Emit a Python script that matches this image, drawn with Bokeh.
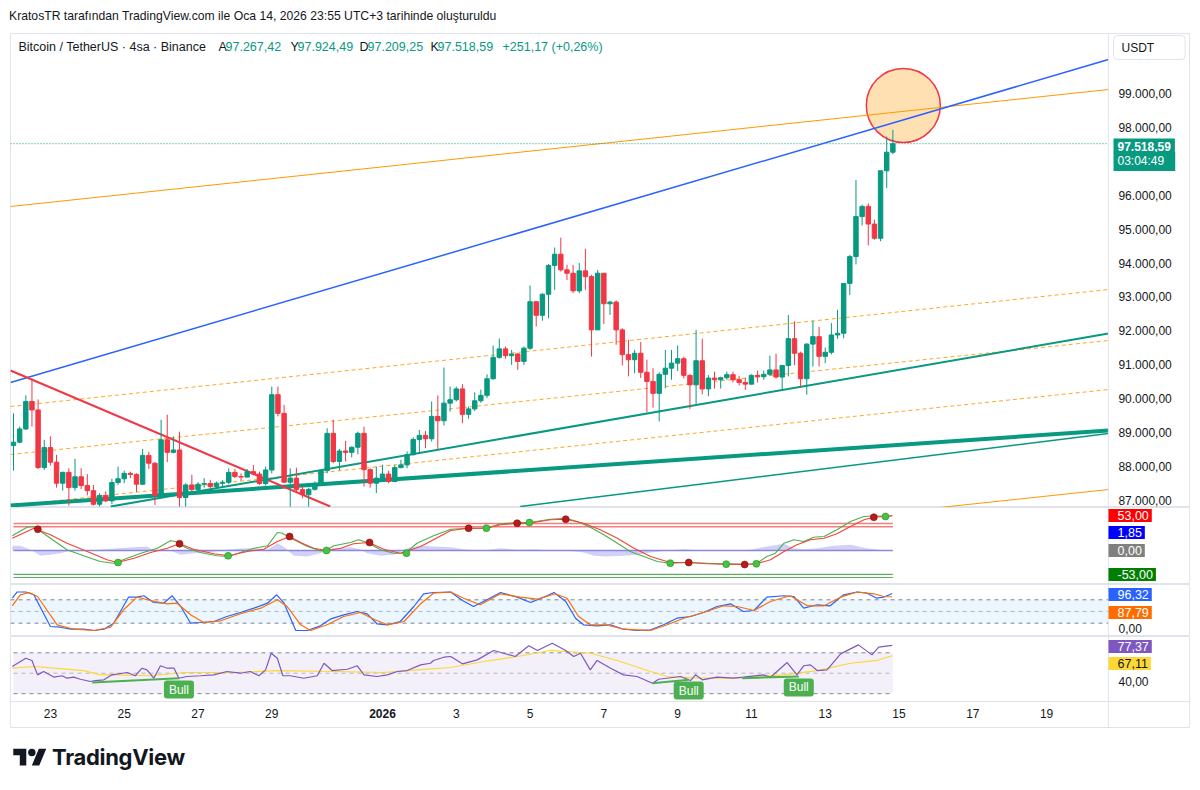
from bokeh.plotting import figure
from bokeh.models import Range1d, Label, Div, ColumnDataSource, Span
from bokeh.layouts import column
from bokeh.embed import file_html
from bokeh.resources import INLINE

# ------------------------------------------------------------------ data
# 4h candles BTC/USDT (bar index 0..143, bar 60 = 1 Jan 2026 00:00)
opens = [88620, 88720, 89110, 89920, 89670, 87970, 88560, 88130, 87510, 87830,
         87380, 87700, 87440, 87290, 86890, 87150, 86990, 87530, 87640, 87800,
         87770, 87480, 88330, 88100, 87150, 88790, 88420, 88490, 87090, 87460,
         87320, 87480, 87500, 87410, 87510, 87540, 87830, 87710, 87690, 87850,
         87780, 87500, 87900, 90120, 89570, 87540, 87660, 87320, 87170, 87330,
         87460, 87880, 88980, 88150, 88460, 88420, 88570, 88980, 87910, 87510,
         87660, 87780, 87560, 87970, 88050, 88350, 88800, 88920, 88820, 89480,
         89350, 89870, 89970, 90290, 89540, 89700, 89940, 90100, 90590, 91220,
         91470, 91270, 91320, 91100, 91490, 92860, 92460, 93080, 93930, 94260,
         93800, 93700, 93180, 93770, 93600, 92030, 93700, 92800, 92850, 92030,
         91300, 91150, 91340, 90780, 90510, 90160, 90720, 90900, 91050, 91180,
         90690, 90410, 91120, 90290, 90610, 90560, 90620, 90710, 90560, 90480,
         90430, 90690, 90650, 90720, 90850, 90640, 90980, 91770, 91340, 90590,
         91610, 91830, 91250, 91370, 91880, 91930, 93400, 94190, 95370, 95670,
         95150, 94730, 96720, 97267.42]
highs = [89570, 89180, 90100, 90590, 89980, 88790, 88890, 88350, 87850, 87950,
         88230, 87950, 87780, 87460, 87220, 87270, 87640, 88000, 87880, 87850,
         87800, 88520, 88440, 88130, 89380, 89530, 88890, 89030, 87510, 87760,
         87540, 87660, 87610, 87560, 87600, 87950, 87930, 87800, 87930, 88050,
         87850, 88000, 90360, 90360, 89820, 87950, 87970, 87410, 87380, 87560,
         87900, 89130, 89380, 88520, 88760, 88590, 89030, 89180, 87950, 88000,
         88050, 87880, 88050, 88200, 88450, 88860, 89080, 89050, 89920, 90100,
         90920, 90360, 90360, 90430, 89770, 90190, 90270, 90720, 91570, 91780,
         91540, 91440, 91350, 91540, 93340, 92870, 93110, 93970, 94460, 94750,
         93950, 93950, 94000, 94420, 93650, 93800, 93700, 92890, 92900, 92080,
         91740, 91440, 91670, 91150, 90900, 90780, 91440, 91440, 91570, 91240,
         90720, 92030, 91770, 90700, 90800, 90650, 90800, 90800, 90680, 90620,
         90720, 90830, 90830, 91270, 91330, 91000, 92470, 92280, 91390, 91640,
         92300, 92120, 91510, 92230, 92620, 93400, 94240, 96450, 95720, 95760,
         95280, 96720, 97730, 97924.49]
lows = [87880, 88690, 89080, 89180, 87930, 87900, 88030, 87380, 87290, 86850,
        87290, 87340, 87150, 86850, 86820, 86950, 86890, 87460, 87510, 87660,
        87250, 87460, 87930, 86870, 87070, 88130, 88390, 86820, 86820, 87270,
        87270, 87380, 87360, 87360, 87380, 87480, 87660, 87580, 87680, 87740,
        87460, 87440, 87800, 89480, 87510, 86820, 87250, 87070, 86820, 87290,
        87440, 87800, 88100, 87880, 88150, 88270, 88360, 87410, 87380, 87220,
        87580, 87510, 87540, 87950, 87950, 88330, 88390, 88540, 88740, 88500,
        89210, 89620, 89920, 89280, 89410, 89640, 89880, 90020, 90560, 91180,
        91180, 91000, 90850, 91000, 91440, 92130, 92300, 92370, 93210, 93750,
        93500, 93110, 93110, 93210, 91240, 92030, 92200, 92470, 91590, 90980,
        90660, 90750, 90610, 89600, 89740, 89330, 90310, 90560, 90820, 90600,
        89700, 89840, 90130, 90070, 90300, 90300, 90560, 90480, 90390, 90260,
        90420, 90480, 90560, 90680, 90600, 90230, 90660, 90990, 90330, 90120,
        90950, 90950, 91050, 91310, 91770, 91780, 93060, 93960, 95110, 94520,
        94690, 94640, 96210, 97209.25]
closes = [88720, 89110, 89920, 89670, 87970, 88560, 88130, 87510, 87830, 87380,
          87700, 87440, 87290, 86890, 87150, 86990, 87530, 87640, 87800, 87770,
          87480, 88330, 88100, 87150, 88790, 88420, 88490, 87090, 87460, 87320,
          87480, 87500, 87410, 87510, 87540, 87830, 87710, 87690, 87850, 87780,
          87500, 87900, 90120, 89570, 87540, 87660, 87320, 87170, 87330, 87460,
          87880, 88980, 88150, 88460, 88420, 88570, 88980, 87910, 87510, 87660,
          87780, 87560, 87970, 88050, 88350, 88800, 88920, 88820, 89480, 89350,
          89870, 89970, 90290, 89540, 89700, 89940, 90100, 90590, 91220, 91470,
          91270, 91320, 91100, 91490, 92860, 92460, 93080, 93930, 94260, 93800,
          93700, 93180, 93770, 93600, 92030, 93700, 92800, 92850, 92030, 91300,
          91150, 91340, 90780, 90510, 90160, 90720, 90900, 91050, 91180, 90690,
          90410, 91120, 90290, 90610, 90560, 90620, 90710, 90560, 90480, 90430,
          90690, 90650, 90720, 90850, 90640, 90980, 91770, 91340, 90590, 91610,
          91830, 91250, 91370, 91880, 91930, 93400, 94190, 95370, 95670, 95150,
          94730, 96720, 97267.42, 97518.59]

last_price = 97518.59
legend_ohlc = [("A", 97267.42), ("Y", 97924.49), ("D", 97209.25), ("K", 97518.59)]
change_abs = 251.17
change_pct = 0.26
countdown = "03:04:49"

# drawings (bar, price)
blue_channel = [(-0.49, 90480.0), (178.05, 100000.0)]
orange_upper = [(-0.49, 95667.0), (178.05, 99116.0)]
orange_lower = [(-0.49, 83875.0), (178.05, 87324.0)]
red_downtrend = [(-0.49, 90832.0), (51.5, 86823.0)]
green_thick = [(-0.49, 86853.0), (178.05, 89064.0)]
green_upper = [(15.8, 86823.0), (178.05, 91923.0)]
green_lower = [(82.4, 86823.0), (178.05, 88975.0)]
orange_dashed = [
    [(-0.49, 89771.0), (178.05, 93220.0)],
    [(-0.49, 88356.0), (178.05, 91717.0)],
    [(-0.49, 86853.0), (178.05, 90272.0)],
]
target_circle = (144.7, 98645.0)

# price axis ticks
price_ticks = [87000, 88000, 89000, 90000, 91000, 92000, 93000, 94000, 95000, 96000, 98000, 99000]

# date ticks (days from 1 Jan 2026) and labels
date_days = [-9, -7, -5, -3, 0, 2, 4, 6, 8, 10, 12, 14, 16, 18]
date_labels = ["23", "25", "27", "29", "2026", "3", "5", "7", "9", "11", "13", "15", "17", "19"]
JAN1_BAR = 60
BARS_PER_DAY = 6

# WaveTrend oscillator (bar, value)
wt1_pts = [(-0.2, 32.7), (2.2, 51.8), (3.3, 53.3), (6.0, 27.3), (8.7, 1.6), (11.4, -11.8), (14.1, -24.4),
           (16.3, -28.2), (18.5, -17.1), (20.7, -6.0), (23.4, 5.1), (25.5, 21.6), (26.3, 20.0), (28.2, 5.1),
           (30.4, -4.4), (33.1, -11.8), (35.0, -13.3), (36.9, -4.4), (39.1, 5.1), (41.3, 10.4), (42.9, 40.0),
           (43.7, 38.4), (45.6, 23.8), (47.8, 8.9), (49.9, -0.7), (50.7, -0.7), (52.1, 10.4), (54.8, 17.8),
           (56.1, 23.8), (57.5, 17.8), (59.7, 1.6), (61.8, -6.0), (63.7, -6.0), (65.6, 16.2), (68.3, 32.7),
           (71.1, 47.3), (74.0, 49.6), (76.9, 49.6), (79.2, 59.3), (81.9, 62.2), (83.9, 62.2), (87.3, 69.6),
           (89.8, 71.8), (91.7, 64.4), (93.8, 51.8), (96.0, 34.9), (98.2, 16.2), (100.3, -2.2), (102.5, -13.3),
           (104.7, -24.4), (106.8, -28.2), (109.8, -26.7), (112.8, -28.2), (115.9, -30.4), (118.9, -30.4),
           (120.8, -29.6), (122.5, -13.3), (123.9, -6.0), (125.3, 16.2), (126.9, 23.8), (128.5, 20.0),
           (130.1, 29.6), (131.8, 31.1), (133.9, 46.0), (136.1, 64.4), (138.3, 75.6), (139.9, 77.1),
           (141.8, 75.6), (142.9, 77.1)]
wt2_pts = [(-0.2, 27.3), (3.3, 49.6), (6.0, 34.9), (8.7, 16.2), (12.0, -2.2), (15.2, -20.7), (16.9, -26.7),
           (19.6, -17.1), (22.3, -4.4), (25.0, 5.1), (27.0, 14.9), (29.3, 2.9), (32.6, -7.3), (35.0, -11.8),
           (38.0, -2.2), (40.7, 2.9), (42.9, 20.0), (44.9, 31.1), (46.7, 17.8), (48.8, 5.1), (50.9, 0.0),
           (53.2, 5.1), (55.3, 14.9), (57.8, 17.8), (60.2, 2.9), (62.9, -6.0), (66.2, 8.9), (68.3, 23.8),
           (71.1, 44.4), (74.0, 49.6), (76.9, 49.6), (79.2, 57.1), (81.9, 60.7), (83.9, 60.7), (87.3, 68.2),
           (89.8, 69.6), (92.7, 60.7), (95.4, 46.0), (98.2, 27.3), (100.9, 5.1), (103.6, -13.3), (106.8, -26.7),
           (109.8, -26.7), (112.8, -29.6), (115.9, -30.4), (118.9, -31.1), (120.8, -29.6), (123.1, -20.7),
           (125.3, -2.2), (127.4, 12.7), (129.6, 23.8), (131.8, 27.3), (133.9, 37.1), (136.1, 53.3),
           (138.3, 68.2), (139.9, 74.0), (141.8, 75.6), (142.9, 77.1)]
wt_hist_pts = [(-0.2, 10.4), (1.1, 10.4), (2.2, 5.2), (3.3, -2.2), (4.4, -11.9), (6.0, -9.6), (7.6, -5.9),
               (8.7, -2.2), (11.4, 0.0), (14.1, 1.5), (16.9, 5.2), (19.6, 7.4), (21.7, 8.9), (22.8, 0.0),
               (25.0, 3.0), (27.2, -9.6), (29.3, -5.9), (31.5, -4.4), (34.7, 1.5), (36.9, 4.4), (39.1, 5.2),
               (41.3, 1.5), (42.9, 16.3), (43.9, 8.9), (45.6, -11.9), (47.8, -13.3), (49.9, -5.9), (52.1, 5.2),
               (54.8, 7.4), (56.4, 3.0), (57.5, -5.9), (59.7, -11.9), (61.8, -9.6), (64.0, 5.2), (66.2, 10.4),
               (68.3, 8.9), (71.1, 7.4), (73.8, 1.5), (76.5, 0.0), (79.2, 5.2), (81.9, 1.5), (84.6, 3.0),
               (87.3, 0.0), (90.0, 0.0), (92.7, -4.4), (94.4, -11.9), (96.5, -13.3), (99.2, -11.9),
               (101.4, -9.6), (103.6, -4.4), (106.3, 0.0), (109.0, 3.0), (111.7, 0.0), (117.1, 0.0),
               (119.8, 1.5), (122.5, 8.9), (125.3, 14.8), (126.9, 5.2), (128.5, 3.0), (130.7, 5.2),
               (133.4, 10.4), (136.1, 12.6), (138.8, 5.2), (141.5, 0.0), (142.9, 0.0)]
wt_cross_down = [(3.95, 47.3), (27.0, 14.9), (44.9, 31.1), (57.9, 17.8), (74.0, 49.6), (81.9, 60.7),
                 (89.8, 69.6), (109.8, -26.7), (118.9, -31.1), (139.9, 74.0)]
wt_cross_up = [(17.0, -26.7), (34.9, -11.8), (50.9, 0.0), (63.9, -6.0), (76.9, 49.6), (83.9, 62.2),
               (106.8, -28.2), (115.9, -30.4), (120.8, -29.6), (141.8, 75.6)]
wt_levels_ob = [60, 53]
wt_levels_os = [-53, -60]
wt_tags = [("53,00", "#ff0000"), ("1,85", "#0000ff"), ("0,00", "#808080"), ("-53,00", "#008000")]

# Stochastic RSI (bar, value)
stoch_k = [(-0.2, 84.1), (0.6, 100), (2.0, 100), (3.3, 92.8), (6.0, 11.5), (7.6, 9.7), (9.3, 4.6), (11.4, 4.6),
           (13.1, 1.3), (14.7, 4.6), (16.3, 20.0), (18.7, 86.7), (20.1, 86.7), (21.2, 90.3), (22.8, 73.1),
           (24.4, 71.3), (25.8, 90.3), (27.2, 62.8), (28.8, 20.0), (30.4, 21.8), (32.6, 24.4), (34.7, 37.2),
           (36.9, 47.4), (39.1, 58.5), (41.3, 71.3), (42.8, 92.8), (44.0, 71.3), (45.9, 1.3), (47.8, 1.3),
           (49.9, 13.3), (51.5, 30.3), (53.7, 41.5), (55.9, 50.0), (57.5, 44.1), (59.1, 18.5), (60.8, 15.9),
           (62.9, 24.4), (65.1, 62.8), (66.7, 95.4), (68.3, 98.7), (71.1, 100), (73.0, 78.2), (74.8, 62.8),
           (77.0, 80.0), (79.2, 98.7), (81.9, 86.7), (84.1, 73.1), (86.2, 86.7), (87.9, 98.7), (89.8, 75.6),
           (91.4, 32.8), (92.7, 15.9), (94.9, 13.3), (97.1, 15.9), (99.2, 4.6), (101.4, 1.3), (103.6, 3.1),
           (105.7, 15.9), (107.9, 32.8), (110.1, 37.2), (112.2, 47.4), (114.4, 62.8), (116.6, 69.7),
           (118.7, 50.0), (120.4, 52.6), (122.5, 86.7), (125.3, 90.3), (126.9, 88.5), (128.5, 58.5),
           (130.7, 67.2), (132.8, 64.6), (135.0, 92.8), (137.2, 100), (138.8, 96.9), (140.4, 84.1),
           (141.5, 86.7), (142.9, 96.32)]
stoch_d = [(-0.2, 64.6), (1.1, 92.8), (2.5, 98.7), (3.9, 88.5), (7.1, 15.9), (9.8, 4.6), (13.1, 1.3), (15.8, 9.7),
           (17.9, 54.4), (20.1, 86.7), (22.3, 78.2), (25.0, 69.7), (26.6, 71.3), (28.8, 41.5), (30.9, 21.8),
           (33.7, 26.2), (36.9, 44.1), (40.2, 58.5), (42.9, 80.0), (44.5, 62.8), (46.7, 15.9), (48.3, 1.3),
           (51.0, 15.9), (53.7, 37.2), (56.4, 47.4), (58.6, 30.3), (60.8, 15.9), (63.5, 24.4), (66.2, 69.7),
           (68.3, 96.9), (71.1, 100), (73.2, 84.1), (75.9, 67.2), (79.2, 95.4), (82.4, 86.7), (85.2, 81.5),
           (88.1, 95.4), (90.0, 84.1), (91.9, 37.2), (93.8, 15.9), (96.5, 15.9), (99.2, 4.6), (103.6, 1.3),
           (106.3, 15.9), (109.0, 32.8), (112.2, 47.4), (115.5, 64.6), (117.7, 62.8), (120.4, 52.6),
           (123.1, 75.6), (126.3, 90.3), (129.1, 64.6), (131.8, 64.6), (134.5, 86.7), (137.2, 100),
           (139.9, 95.4), (141.5, 88.5), (142.9, 87.79)]
stoch_band = (20, 80)
stoch_mid = 50
stoch_axis_tick = 0

# RSI (bar, value)
rsi_pts = [(-0.2, 56.6), (2.0, 64.7), (3.0, 62.5), (3.9, 48.4), (4.9, 51.7), (6.6, 46.1), (7.9, 47.5), (8.7, 45.1),
           (9.8, 46.1), (10.9, 44.1), (12.5, 41.9), (13.3, 42.8), (14.7, 43.5), (16.0, 48.4), (18.5, 50.7),
           (19.8, 47.5), (20.9, 54.9), (21.7, 53.3), (22.8, 45.1), (23.9, 57.3), (25.0, 54.9), (26.1, 54.9),
           (26.9, 45.1), (28.2, 46.8), (30.4, 47.5), (32.6, 48.4), (34.7, 51.7), (36.9, 50.0), (38.5, 51.7),
           (39.9, 47.5), (41.0, 53.3), (41.9, 69.6), (42.9, 64.7), (43.8, 47.5), (45.0, 47.5), (47.2, 45.1),
           (49.4, 47.5), (50.5, 59.8), (51.8, 52.6), (54.3, 53.9), (55.9, 57.3), (57.0, 48.4), (59.1, 46.8),
           (60.8, 48.4), (62.4, 51.7), (64.0, 52.6), (66.2, 58.2), (67.8, 59.8), (68.3, 62.5), (70.0, 65.7),
           (71.1, 66.4), (73.0, 59.2), (75.4, 63.1), (78.1, 72.3), (79.7, 69.6), (81.6, 66.4), (83.8, 76.9),
           (85.2, 72.3), (87.6, 79.4), (89.8, 72.3), (91.1, 66.4), (92.2, 69.6), (93.8, 53.3), (94.9, 62.5),
           (97.1, 54.9), (99.2, 48.4), (101.4, 46.8), (103.9, 40.2), (104.9, 44.1), (108.5, 46.8),
           (110.1, 42.8), (110.9, 48.4), (112.0, 43.5), (114.4, 46.1), (117.1, 45.1), (118.7, 46.1),
           (122.0, 48.4), (123.1, 46.1), (125.8, 60.5), (127.4, 48.4), (128.5, 57.3), (129.6, 58.2),
           (130.7, 52.6), (132.3, 53.3), (134.5, 69.0), (137.4, 77.8), (139.6, 68.0), (140.7, 75.5),
           (142.9, 77.37)]
rsi_ma_pts = [(-0.2, 54.9), (3.3, 56.6), (6.6, 54.9), (11.4, 52.6), (14.1, 48.4), (16.9, 48.4), (22.3, 47.5),
              (27.7, 50.7), (35.8, 50.7), (42.9, 52.6), (52.1, 51.7), (60.2, 50.7), (65.6, 53.3), (71.1, 55.6),
              (76.5, 61.5), (81.9, 66.4), (87.3, 72.3), (93.8, 69.6), (98.2, 62.5), (103.6, 51.7),
              (106.3, 46.8), (111.7, 45.1), (117.1, 45.1), (125.3, 48.4), (130.7, 52.6), (136.1, 59.8),
              (140.4, 62.5), (142.9, 67.11)]
rsi_band = (30, 70)
rsi_mid = 50
rsi_axis_tick = 40
bull_divergences = [((12.8, 40.9), (26.9, 45.1)), ((103.9, 40.2), (109.8, 43.5)), ((118.5, 45.1), (127.7, 46.8))]
bull_label_y = [34.0, 33.0, 36.0]

# ------------------------------------------------------------------ style
FONT = "Liberation Sans"
TEXT = "#131722"
UP = "#089981"
DOWN = "#f23645"
GRIDLINE = "#e0e3eb"
FW = 1180            # frame width (px) incl. price-scale column
LEFT = 10            # page x of frame left
SEP_BAR = 178.05     # bar position of the price-scale separator

xr = Range1d(-0.49, 191.4)


def tr(v, dec=2):
    s = f"{v:,.{dec}f}"
    return s.replace(",", "#").replace(".", ",").replace("#", ".")


def pane(fh, y0, y1):
    p = figure(frame_width=FW, frame_height=fh, x_range=xr, y_range=Range1d(y0, y1),
               x_axis_location=None, y_axis_location=None,
               toolbar_location=None, output_backend="svg",
               min_border_left=LEFT, min_border_right=0, min_border_top=0, min_border_bottom=0,
               background_fill_color="white", border_fill_color="white")
    p.xgrid.visible = False
    p.ygrid.visible = False
    p.outline_line_color = GRIDLINE
    p.add_layout(Span(location=SEP_BAR, dimension="height", line_color=GRIDLINE, line_width=1))
    return p


def tag(p, fb, px, py, text, color=TEXT, bg=None, size="12px", pad=None, bold=False,
        border=None, radius=0, align="left"):
    lab = Label(x=px - LEFT, y=fb - py, x_units="screen", y_units="screen", text=text,
                text_color=color, text_font=FONT, text_font_size=size,
                text_baseline="middle", text_align=align,
                text_font_style=("bold" if bold else "normal"),
                background_fill_color=bg, border_line_color=border, border_radius=radius,
                padding=(pad if pad is not None else 0))
    p.add_layout(lab)


def ytick(p, v, text):
    p.add_layout(Label(x=SEP_BAR, y=v, x_offset=10, text=text, text_color=TEXT, text_font=FONT,
                       text_font_size="12px", text_baseline="middle", text_align="left"))


def seg_line(p, pts, **kw):
    p.line([a for a, _ in pts], [b for _, b in pts], **kw)


BOX_PAD = dict(left=9, right=3, top=2, bottom=2)
BOX_FS = "12.5px"

# ------------------------------------------------------------------ main pane
MAIN_FB = 506
main = pane(474, 86794, 100767)
for t in price_ticks:
    ytick(main, t, tr(t))

main.scatter([target_circle[0]], [target_circle[1]], size=74, marker="circle",
             fill_color="#ff9800", fill_alpha=0.3, line_color="#f23645", line_width=1.5)

for pts in orange_dashed:
    seg_line(main, pts, line_color="#ffa726", line_width=1, line_dash="4 3")
seg_line(main, orange_upper, line_color="#ff9800", line_width=1)
seg_line(main, orange_lower, line_color="#ff9800", line_width=1)
seg_line(main, blue_channel, line_color="#2962ff", line_width=1.5)
seg_line(main, green_upper, line_color=UP, line_width=2)
seg_line(main, green_lower, line_color=UP, line_width=1.5)
seg_line(main, green_thick, line_color=UP, line_width=4)
seg_line(main, red_downtrend, line_color="#f23645", line_width=2)

main.line([-0.49, SEP_BAR], [last_price, last_price], line_color=UP, line_dash="1 2", line_width=1)

bars = list(range(len(opens)))
colors = [UP if c >= o else DOWN for o, c in zip(opens, closes)]
src = ColumnDataSource(dict(x=bars, o=opens, h=highs, l=lows, c=closes, color=colors,
                            top=[max(o, c) for o, c in zip(opens, closes)],
                            bot=[min(o, c) for o, c in zip(opens, closes)]))
main.segment(x0="x", y0="l", x1="x", y1="h", line_color="color", line_width=1, source=src)
main.vbar(x="x", width=0.72, top="top", bottom="bot", fill_color="color", line_color="color",
          line_width=1, source=src)

# legend line
tag(main, MAIN_FB, 18, 45, "Bitcoin / TetherUS · 4sa · Binance", size="12.5px")
leg_x = [(218, 225), (290, 297), (359, 367), (430, 437)]
for (k, v), (xk, xv) in zip(legend_ohlc, leg_x):
    tag(main, MAIN_FB, xk, 45, k, size="12.5px")
    tag(main, MAIN_FB, xv, 45, tr(v), color=UP, size="12.5px")
tag(main, MAIN_FB, 502, 45, f"+{tr(change_abs)} (+{tr(change_pct)}%)", color=UP, size="12.5px")

# price scale widgets
tag(main, MAIN_FB, 1113, 46, "USDT", size="12px", border=GRIDLINE, radius=4,
    pad=dict(left=8, right=31, top=5, bottom=5))
tag(main, MAIN_FB, 1113, 144, tr(last_price), color="white", bg=UP, size="12px", bold=True,
    pad=dict(left=4, right=4, top=3, bottom=2))
tag(main, MAIN_FB, 1113, 160, countdown, color="white", bg=UP, size="12px",
    pad=dict(left=4, right=11, top=2, bottom=3))

# ------------------------------------------------------------------ WaveTrend pane
WT_FB = 583
wt = pane(77, -75.6, 95.6)
hx = [a for a, _ in wt_hist_pts]
wt.varea(x=hx, y1=[0] * len(hx), y2=[b for _, b in wt_hist_pts], fill_color="#7b7bea", fill_alpha=0.35)
x_end = [0, bars[-1]]
wt.line(x_end, [0, 0], line_color="#8a87d8", line_width=1.5)
for lv in wt_levels_ob:
    wt.line(x_end, [lv, lv], line_color="#ef5350", line_alpha=0.75, line_width=1.5)
for lv in wt_levels_os:
    wt.line(x_end, [lv, lv], line_color="#43a047", line_alpha=0.85, line_width=1.2)
seg_line(wt, wt1_pts, line_color="#4caf50", line_width=1.1)
seg_line(wt, wt2_pts, line_color="#f44336", line_width=1.1)
wt.scatter([a for a, _ in wt_cross_down], [b for _, b in wt_cross_down], size=7,
           fill_color="#b71c1c", line_color="#7f0000", line_width=0.5)
wt.scatter([a for a, _ in wt_cross_up], [b for _, b in wt_cross_up], size=7,
           fill_color="#43c443", line_color="#1b7e1b", line_width=0.5)
for (txt, col), py in zip(wt_tags, [514, 531, 549, 573]):
    tag(wt, WT_FB, 1108, py, txt, color="white", bg=col, size=BOX_FS, pad=BOX_PAD)

# ------------------------------------------------------------------ Stoch RSI pane
ST_FB = 635
st = pane(52, -14.1, 119.2)
st.varea(x=[-0.49, SEP_BAR], y1=[stoch_band[0]] * 2, y2=[stoch_band[1]] * 2,
         fill_color="#2196f3", fill_alpha=0.09)
for lv in (stoch_band[0], stoch_mid, stoch_band[1]):
    st.line([-0.49, SEP_BAR], [lv, lv], line_color="#787b86", line_dash="4 4", line_width=1,
            line_alpha=(0.5 if lv == stoch_mid else 0.9))
seg_line(st, stoch_k, line_color="#2962ff", line_width=1.2)
seg_line(st, stoch_d, line_color="#ff6d00", line_width=1.2)
tag(st, ST_FB, 1118, 627, tr(stoch_axis_tick))
tag(st, ST_FB, 1108, 593, tr(stoch_k[-1][1]), color="white", bg="#2962ff", size=BOX_FS, pad=BOX_PAD)
tag(st, ST_FB, 1108, 611, tr(stoch_d[-1][1]), color="white", bg="#ff6d00", size=BOX_FS, pad=BOX_PAD)

# ------------------------------------------------------------------ RSI pane (+ time scale row)
RSI_FB = 727
RSI_BOTTOM = 22.3    # value at the pane / time-scale boundary
rs = pane(92, -4.2, 86.0)
rs.add_layout(Span(location=RSI_BOTTOM, dimension="width", line_color=GRIDLINE, line_width=1))
rs.varea(x=[0, bars[-1]], y1=[rsi_band[0]] * 2, y2=[rsi_band[1]] * 2,
         fill_color="#7e57c2", fill_alpha=0.09)
for lv in (rsi_band[0], rsi_mid, rsi_band[1]):
    rs.line([0, bars[-1]], [lv, lv], line_color="#787b86", line_dash="4 4", line_width=1,
            line_alpha=(0.5 if lv == rsi_mid else 0.9))
seg_line(rs, rsi_ma_pts, line_color="#fdd835", line_width=1.2)
seg_line(rs, rsi_pts, line_color="#7e57c2", line_width=1.2)
for ((x0, y0), (x1, y1)), ly in zip(bull_divergences, bull_label_y):
    rs.line([x0, x1], [y0, y1], line_color="#4caf50", line_width=2)
    rs.add_layout(Label(x=x1, y=ly, text="Bull", text_color="white", text_font=FONT,
                        text_font_size="12px", text_align="center", text_baseline="middle",
                        background_fill_color="#4caf50", border_radius=3,
                        padding=dict(left=5, right=5, top=2, bottom=2)))
tag(rs, RSI_FB, 1118, 680, tr(rsi_axis_tick))
tag(rs, RSI_FB, 1108, 645, tr(rsi_pts[-1][1]), color="white", bg="#7e57c2", size=BOX_FS, pad=BOX_PAD)
tag(rs, RSI_FB, 1108, 662, tr(rsi_ma_pts[-1][1]), color=TEXT, bg="#fdd835", size=BOX_FS, pad=BOX_PAD)

# time scale labels
for d, lab in zip(date_days, date_labels):
    rs.add_layout(Label(x=JAN1_BAR + BARS_PER_DAY * d, y=RSI_FB - 712, y_units="screen", text=lab,
                        text_color=TEXT, text_font=FONT, text_font_size="12px",
                        text_font_style=("bold" if lab == "2026" else "normal"),
                        text_align="center", text_baseline="middle"))

# ------------------------------------------------------------------ header / footer
header = Div(text=("<div style=\"font-family:'Liberation Sans';font-size:12.2px;color:#131722;"
                   "padding-left:4px;padding-top:4px;line-height:14px;white-space:nowrap;\">"
                   "KratosTR tarafından TradingView.com ile Oca 14, 2026 23:55 UTC+3 tarihinde oluşturuldu</div>"),
             width=1190, height=23)
logo = Div(text=("<div style=\"display:flex;align-items:center;margin-top:9px;padding-left:8px;"
                 "font-family:Inter,'Liberation Sans';font-weight:700;font-size:22px;color:#131722;"
                 "letter-spacing:-0.3px;\">"
                 "<svg width='34' height='26' viewBox='0 0 36 28'>"
                 "<path d='M14 22H7V11H0V4h14v18zM28 22h-8l7.5-18h8L28 22z' fill='#131722'/>"
                 "<circle cx='20' cy='8' r='4' fill='#131722'/></svg>"
                 "<span style='margin-left:5px'>TradingView</span></div>"),
           width=1190, height=50)

layout = column(header, main, wt, st, rs, logo, spacing=0)
open("out.html", "w").write(file_html(layout, INLINE, "BTCUSDT"))
